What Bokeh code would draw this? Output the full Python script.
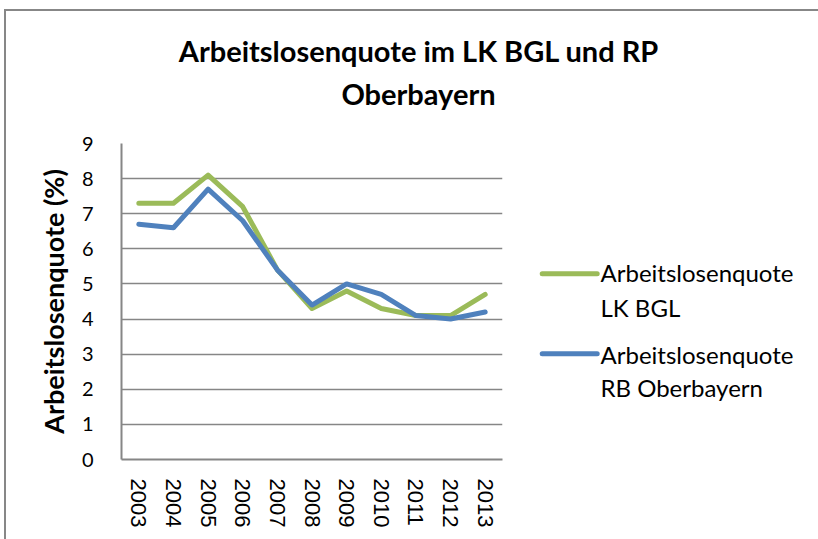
from bokeh.plotting import figure
from bokeh.layouts import column, row
from bokeh.models import FixedTicker, FactorRange, Range1d
from bokeh.core.properties import value
from bokeh.embed import file_html
from bokeh.resources import INLINE

years = ["2003", "2004", "2005", "2006", "2007", "2008", "2009", "2010", "2011", "2012", "2013"]
lk_bgl = [7.3, 7.3, 8.1, 7.2, 5.4, 4.3, 4.8, 4.3, 4.1, 4.1, 4.7]
rb_obb = [6.7, 6.6, 7.7, 6.8, 5.4, 4.4, 5.0, 4.7, 4.1, 4.0, 4.2]
y_ticks = [0, 1, 2, 3, 4, 5, 6, 7, 8, 9]

title_lines = ["Arbeitslosenquote im LK BGL und RP", "Oberbayern"]
legend_first = ["Arbeitslosenquote", "Arbeitslosenquote"]
legend_second = ["LK BGL", "RB Oberbayern"]
y_label = "Arbeitslosenquote (%)"

GREEN = "#9BBB59"
BLUE = "#4F81BD"
GRAY = "#868686"

# page geometry: content origin at (6, 11) after margin + 2px border
OX, OY = 6, 11
TOTAL_W, TOTAL_H = 818 - OX, 539 - OY
TITLE_H = 108
MAIN_W = 530 - OX
LEG_W = TOTAL_W - MAIN_W
MAIN_H = TOTAL_H - TITLE_H
main_top = OY + TITLE_H  # page y of main figure top
FRAME_L, FRAME_R, FRAME_T, FRAME_B = 121, 502, 143, 459

def styled(fig):
    fig.outline_line_color = None
    fig.background_fill_color = "white"
    fig.border_fill_color = "white"

# ---- title figure (coordinates: x = page x, y = -page y)
tf = figure(width=TOTAL_W, height=TITLE_H, x_range=Range1d(OX, OX + TOTAL_W),
            y_range=Range1d(-(OY + TITLE_H), -OY), x_axis_location=None, y_axis_location=None,
            output_backend="svg", toolbar_location=None, title=None,
            min_border_left=0, min_border_right=0, min_border_top=0, min_border_bottom=0)
styled(tf)
tf.grid.visible = False
tf.text(x=[418.5, 418.0], y=[-50.0, -92.5], text=title_lines,
        text_align="center", text_baseline="middle", text_font=value("Lato"),
        text_font_style="bold", text_font_size=value("29px"), text_color="black")

# ---- main chart
p = figure(width=MAIN_W, height=MAIN_H, x_range=FactorRange(*years, range_padding=0, factor_padding=0),
           y_range=Range1d(0, 9), output_backend="svg", toolbar_location=None, title=None,
           min_border_left=FRAME_L - OX, min_border_right=530 - FRAME_R, min_border_top=FRAME_T - main_top,
           min_border_bottom=539 - FRAME_B)
styled(p)

p.line(years, lk_bgl, line_color=GREEN, line_width=5, line_join="round", line_cap="round")
p.line(years, rb_obb, line_color=BLUE, line_width=5, line_join="round", line_cap="round")

p.xgrid.grid_line_color = None
p.ygrid.grid_line_color = GRAY
p.ygrid.grid_line_width = 1.5
p.yaxis.ticker = FixedTicker(ticks=y_ticks)
p.yaxis.major_tick_line_color = None
p.yaxis.minor_tick_line_color = None
p.yaxis.axis_line_color = GRAY
p.yaxis.axis_line_width = 2
p.yaxis.major_label_text_font = "Lato"
p.yaxis.major_label_text_font_size = "20px"
p.yaxis.major_label_text_color = "black"
p.yaxis.major_label_standoff = 22
p.yaxis.axis_label = y_label
p.yaxis.axis_label_text_font = "Lato"
p.yaxis.axis_label_text_font_style = "bold"
p.yaxis.axis_label_text_font_size = "27px"
p.yaxis.axis_label_text_color = "black"
p.yaxis.axis_label_standoff = 9

p.xaxis.major_tick_line_color = None
p.xaxis.axis_line_color = GRAY
p.xaxis.axis_line_width = 2
p.xaxis.major_label_orientation = "vertical"
p.xaxis.major_label_text_font = "Liberation Sans"
p.xaxis.major_label_text_font_size = "22px"
p.xaxis.major_label_text_color = "black"
p.xaxis.major_label_standoff = 13

# ---- legend figure (frame aligned with main frame; x = page x, y = -page y)
lf = figure(width=LEG_W, height=MAIN_H, x_range=Range1d(530, 530 + LEG_W),
            y_range=Range1d(-FRAME_B, -FRAME_T), x_axis_location=None, y_axis_location=None,
            output_backend="svg", toolbar_location=None, title=None,
            min_border_left=0, min_border_right=0, min_border_top=FRAME_T - main_top,
            min_border_bottom=539 - FRAME_B)
styled(lf)
lf.grid.visible = False
sw_y = [-273.3, -353.3]
lf.segment(x0=[541.7] * 2, x1=[596.7] * 2, y0=sw_y, y1=sw_y,
           line_color=[GREEN, BLUE], line_width=5, line_cap="round")
lf.text(x=[600] * 2, y=[-272.0, -353.5], text=legend_first,
        text_align="left", text_baseline="middle", text_font=value("Lato"),
        text_font_size=value("24px"), text_color="black")
lf.text(x=[600] * 2, y=[-306.5, -387.0], text=legend_second,
        text_align="left", text_baseline="middle", text_font=value("Lato"),
        text_font_size=value("24px"), text_color="black")

layout = column(tf, row(p, lf, spacing=0), spacing=0,
                styles={"border-top": "2px solid #878787", "border-left": "2px solid #878787",
                        "margin-left": "4px", "margin-top": "9px"})

open("out.html", "w").write(file_html(layout, INLINE))
